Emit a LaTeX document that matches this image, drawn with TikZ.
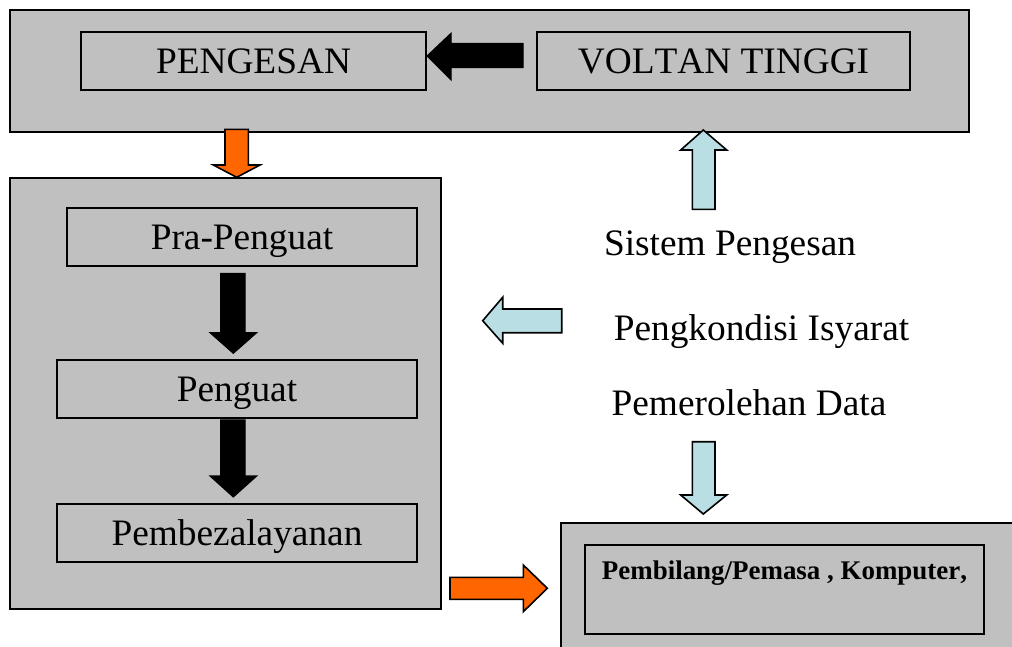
\documentclass[tikz,border=0pt]{standalone}
\usepackage{fontspec}
\setmainfont[Kerning=Off]{Liberation Serif}
\definecolor{boxgray}{RGB}{192,192,192}
\definecolor{orangearr}{RGB}{255,102,0}
\definecolor{bluearr}{RGB}{185,222,228}
\tikzset{
  panel/.style={draw=black, line width=1.5pt, fill=boxgray},
  blk/.style={draw=black, line width=1.2pt, fill=boxgray, inner sep=0pt, text height=18.5pt, text depth=0pt, font=\fontsize{28}{30}\selectfont},
  lbl/.style={inner sep=0pt, text height=18.5pt, text depth=0pt, font=\fontsize{28}{30}\selectfont},
  blackarr/.style={fill=black, draw=black, line width=0.8pt, line join=miter},
  orarr/.style={fill=orangearr, draw=black, line width=1.2pt, line join=miter},
  bluarr/.style={fill=bluearr, draw=black, line width=1.2pt, line join=miter}
}
\begin{document}
\begin{tikzpicture}[x=0.75pt,y=-0.75pt]
\useasboundingbox (0,0) rectangle (1012,646);
\clip (0,0) rectangle (1012,646);
% panels
\draw[panel] (10,10) rectangle (969,132);
\draw[panel] (10,178) rectangle (441,609);
\draw[panel] (561,523) rectangle (1030,670);
% top blocks
\node[blk, minimum width=345*0.75pt, minimum height=58*0.75pt] (peng) at (253.5,61) {PENGESAN};
\node[blk, minimum width=373*0.75pt, minimum height=58*0.75pt] (volt) at (723.5,61) {VOLTAN TINGGI};
% left blocks
\node[blk, minimum width=350*0.75pt, minimum height=58*0.75pt] (pra) at (242,237) {Pra-Penguat};
\node[blk, minimum width=360*0.75pt, minimum height=58*0.75pt] (pengu) at (237,389) {Penguat};
\node[blk, minimum width=360*0.75pt, minimum height=58*0.75pt] (pemb) at (237,533) {Pembezalayanan};
% bottom right inner block
\node[blk, minimum width=399*0.75pt, minimum height=89*0.75pt] (komp) at (784.5,589.5) {};
\node[inner sep=0pt, text height=13.3pt, text depth=0pt, font=\fontsize{20.2}{22}\selectfont\bfseries] (kompt) at (784.5,570.5) {Pembilang/Pemasa , Komputer,};
% free labels
\node[lbl] (sis) at (730,243.5) {Sistem Pengesan};
\node[lbl] (kond) at (761.5,328) {Pengkondisi Isyarat};
\node[lbl] (data) at (749,403) {Pemerolehan Data};
% black left arrow (VOLTAN -> PENGESAN)
\draw[blackarr] (523,43.3) -- (451,43.3) -- (451,33.3) -- (427,56) -- (451,80) -- (451,67.7) -- (523,67.7) -- cycle;
% orange down arrow
\draw[orarr] (225,129.3) -- (248.3,129.3) -- (248.3,165) -- (260,165) -- (236.7,177.3) -- (213.3,165) -- (225,165) -- cycle;
% black down arrows
\draw[blackarr] (220.7,273.3) -- (245,273.3) -- (245,332.7) -- (256.7,332.7) -- (233.3,353.3) -- (210,332.7) -- (220.7,332.7) -- cycle;
\draw[blackarr] (220.7,420) -- (245,420) -- (245,476) -- (256.7,476) -- (233.3,497) -- (210,476) -- (220.7,476) -- cycle;
% light blue up arrow
\draw[bluarr] (692.3,209.3) -- (692.3,150) -- (680.7,150) -- (703.3,130) -- (726.7,150) -- (715,150) -- (715,209.3) -- cycle;
% light blue left arrow
\draw[bluarr] (561.7,309) -- (502.7,309) -- (502.7,297.3) -- (482.7,320.7) -- (502.7,343.3) -- (502.7,332.7) -- (561.7,332.7) -- cycle;
% light blue down arrow
\draw[bluarr] (692.3,441.7) -- (715,441.7) -- (715,495) -- (726.7,495) -- (703.3,514) -- (680.7,495) -- (692.3,495) -- cycle;
% orange right arrow
\draw[orarr] (450,577.3) -- (523.3,577.3) -- (523.3,565) -- (547.3,588.3) -- (523.3,611.7) -- (523.3,599.3) -- (450,599.3) -- cycle;
\end{tikzpicture}
\end{document}
